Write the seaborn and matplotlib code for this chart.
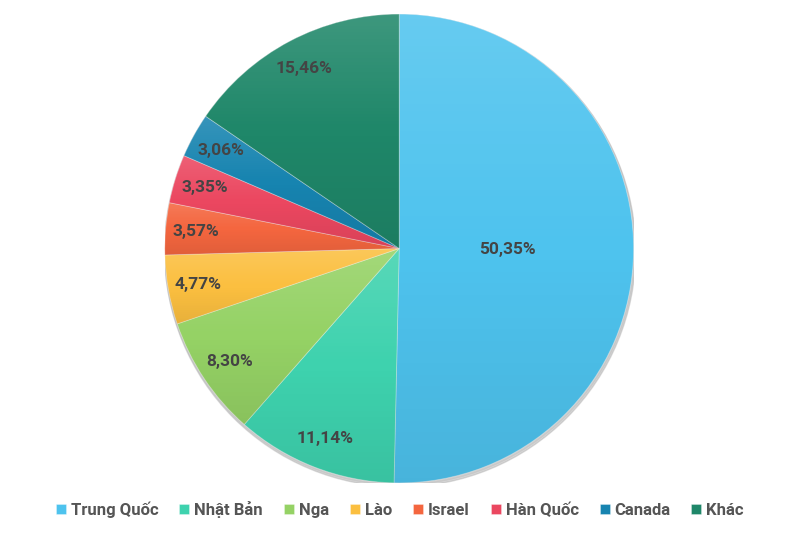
import numpy as np
import matplotlib
matplotlib.use('Agg')
import matplotlib.pyplot as plt
import seaborn as sns
from matplotlib.patches import Circle

# dữ liệu
countries = ['Trung Quốc', 'Nhật Bản', 'Nga', 'Lào', 'Israel', 'Hàn Quốc', 'Canada', 'Khác']
shares = [50.35, 11.14, 8.30, 4.77, 3.57, 3.35, 3.06, 15.46]
colors = ['#4EC3EE', '#3ED2AE', '#95D265', '#FBBF40', '#F4663F', '#EB4760', '#1784B0', '#1F8769']

sns.set_theme(style='white')
plt.rcParams['font.family'] = ['Roboto', 'DejaVu Sans']

fig = plt.figure(figsize=(8, 5.33), dpi=100)
ax = fig.add_axes([0.206, 0.0938, 0.586, 0.88])
pal = sns.color_palette(colors)

# bóng đổ nhẹ
ax.add_patch(Circle((0.004, -0.012), 1.005, color='#999999', alpha=0.35, zorder=0))
ax.add_patch(Circle((0.002, -0.006), 1.003, color='#bbbbbb', alpha=0.4, zorder=0))

wedges, texts, autotexts = ax.pie(
    shares, colors=pal, startangle=90, counterclock=False,
    autopct=lambda p: f'{p:.2f}%'.replace('.', ','),
    wedgeprops=dict(linewidth=0.6, edgecolor=(1, 1, 1, 0.35)),
    textprops=dict(color='#444444', fontsize=12.5, fontweight='bold'))

# gradient trong từng lát: sáng ở trên, tối nhẹ ở dưới
tvals = np.linspace(0, 1, 256)
grad = np.zeros((256, 2, 4))
grad[:, :, :3] = np.where(tvals < 0.5, 1.0, 0.0)[:, None, None]
grad[:, :, 3] = np.where(tvals < 0.5, 0.14 * (1 - tvals / 0.5), 0.08 * (tvals - 0.5) / 0.5)[:, None]

for w, t in zip(wedges, autotexts):
    ang = np.deg2rad((w.theta1 + w.theta2) / 2)
    r = 0.46 if (w.theta2 - w.theta1) > 90 else 0.87
    t.set_position((r * np.cos(ang), r * np.sin(ang)))
    t.set_zorder(5)
    verts = w.get_patch_transform().transform(w.get_path().vertices)
    x0, y0 = verts.min(axis=0)
    x1, y1 = verts.max(axis=0)
    im = ax.imshow(grad, extent=(x0, x1, y0, y1), origin='upper', aspect='auto', zorder=3)
    im.set_clip_path(w)

ax.set_xlim(-1.0, 1.0)
ax.set_ylim(-1.0, 1.0)
ax.set_aspect('equal')
ax.axis('off')

fig.legend(wedges, countries, loc='lower center', bbox_to_anchor=(0.5, 0.0),
           ncol=8, frameon=False, handlelength=0.6, handleheight=0.6,
           handletextpad=0.3, columnspacing=1.25,
           prop=dict(family=['Roboto', 'DejaVu Sans'], size=12, weight='bold'),
           labelcolor='#555555')

fig.savefig('out.png', dpi=100)
